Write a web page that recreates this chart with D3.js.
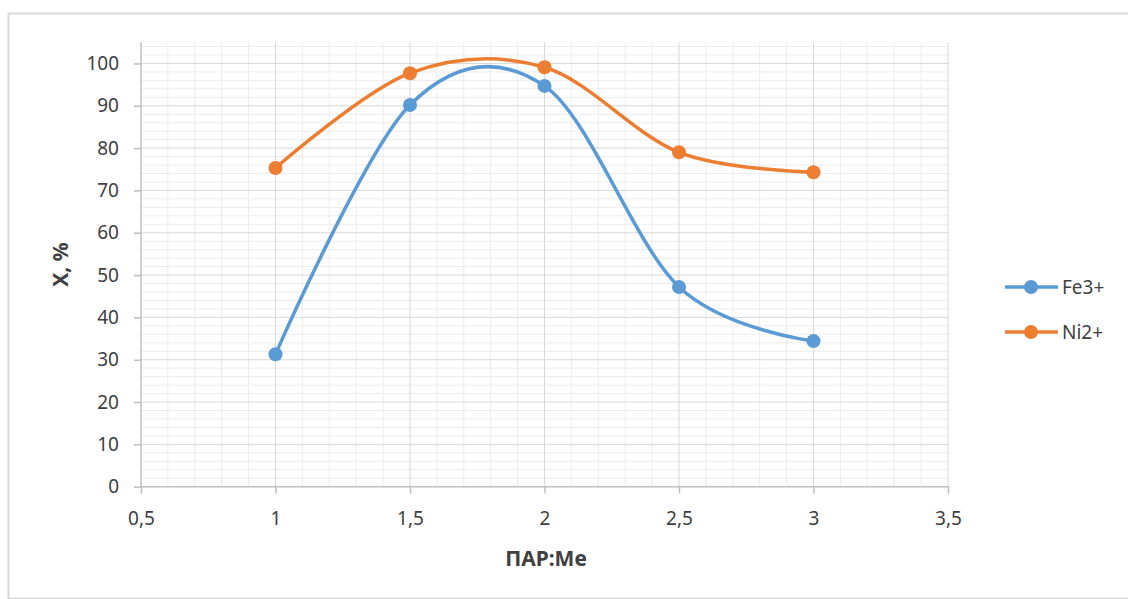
<!DOCTYPE html>
<html><head><meta charset="utf-8">
<script src="https://cdn.jsdelivr.net/npm/d3@7"></script>
<style>body{margin:0;background:#fff;} svg{display:block;} text{font-family:"Noto Sans",sans-serif;fill:#404040;}</style>
</head><body>
<script>
const xValues = [1, 1.5, 2, 2.5, 3];
const fe3 = [31.3, 90.2, 94.7, 47.2, 34.4];
const ni2 = [75.3, 97.7, 99.1, 79.0, 74.3];
const seriesNames = ["Fe3+", "Ni2+"];
const seriesColors = ["#5B9BD5", "#ED7D31"];
const xTicks = [0.5, 1, 1.5, 2, 2.5, 3, 3.5];
const yTicks = [0, 10, 20, 30, 40, 50, 60, 70, 80, 90, 100];

const W = 1128, H = 599;
const svg = d3.select("body").append("svg").attr("width", W).attr("height", H);
svg.append("rect").attr("x", 8.5).attr("y", 13.5).attr("width", 1140).attr("height", 585)
  .attr("fill", "#fff").attr("stroke", "#d9d9d9").attr("stroke-width", 2);

const x = d3.scaleLinear().domain([0.5, 3.5]).range([141, 948]);
const y = d3.scaleLinear().domain([0, 105]).range([486.7, 42.3]);

const g = svg.append("g");
const xMinor = d3.range(0.6, 3.5, 0.1).filter(v => Math.abs(v*2 - Math.round(v*2)) > 1e-6);
const yMinor = d3.range(2, 105, 2).filter(v => v % 10 !== 0);
g.selectAll(".xm").data(xMinor).join("line").attr("x1", d => x(d)).attr("x2", d => x(d))
  .attr("y1", y(0)).attr("y2", y(105)).attr("stroke", "#ececec").attr("stroke-width", 1);
g.selectAll(".ym").data(yMinor).join("line").attr("y1", d => y(d)).attr("y2", d => y(d))
  .attr("x1", x(0.5)).attr("x2", x(3.5)).attr("stroke", "#ececec").attr("stroke-width", 1);
g.selectAll(".xM").data(xTicks.slice(1)).join("line").attr("x1", d => x(d)).attr("x2", d => x(d))
  .attr("y1", y(0)).attr("y2", y(105)).attr("stroke", "#d9d9d9").attr("stroke-width", 1);
g.selectAll(".yM").data(yTicks.slice(1)).join("line").attr("y1", d => y(d)).attr("y2", d => y(d))
  .attr("x1", x(0.5)).attr("x2", x(3.5)).attr("stroke", "#d9d9d9").attr("stroke-width", 1);

const fmt = d => String(d).replace(".", ",");
const xAxis = svg.append("g").attr("transform", `translate(0,${y(0)})`)
  .call(d3.axisBottom(x).tickValues(xTicks).tickFormat(fmt).tickSize(7).tickPadding(18));
const yAxis = svg.append("g").attr("transform", `translate(${x(0.5)},0)`)
  .call(d3.axisLeft(y).tickValues(yTicks).tickSize(7).tickPadding(15));
[xAxis, yAxis].forEach(a => {
  a.select(".domain").attr("stroke", "#bfbfbf").attr("stroke-width", 1.5);
  a.selectAll(".tick line").attr("stroke", "#bfbfbf").attr("stroke-width", 1.5);
  a.selectAll("text").style("font-size", "19px").attr("fill", "#404040");
});
yAxis.select(".domain").attr("d", `M0,${y(0)}V${y(105)}`);
xAxis.select(".domain").attr("d", `M${x(0.5)},0H${x(3.5)}`);

const line = d3.line().x(d => x(d[0])).y(d => y(d[1])).curve(d3.curveCatmullRom.alpha(0));
[fe3, ni2].forEach((s, i) => {
  const pts = xValues.map((v, j) => [v, s[j]]);
  svg.append("path").datum(pts).attr("d", line).attr("fill", "none")
    .attr("stroke", seriesColors[i]).attr("stroke-width", 3.5).attr("stroke-linecap", "round");
  svg.selectAll(".pt" + i).data(pts).join("circle").attr("cx", d => x(d[0])).attr("cy", d => y(d[1]))
    .attr("r", 7).attr("fill", seriesColors[i]);
});

svg.append("text").attr("transform", `translate(68,${(y(0)+y(105))/2}) rotate(-90)`)
  .attr("text-anchor", "middle").style("font-size", "21px").style("font-weight", "bold")
  .attr("fill", "#000").text("Х, %");
svg.append("text").attr("x", 546).attr("y", 566).attr("text-anchor", "middle")
  .style("font-size", "21px").style("font-weight", "bold").attr("fill", "#000").text("ПАР:Ме");

const leg = svg.append("g");
seriesNames.forEach((n, i) => {
  const ly = 287 + i * 45;
  leg.append("line").attr("x1", 1005).attr("x2", 1058).attr("y1", ly).attr("y2", ly)
    .attr("stroke", seriesColors[i]).attr("stroke-width", 3.5);
  leg.append("circle").attr("cx", 1031).attr("cy", ly).attr("r", 7).attr("fill", seriesColors[i]);
  leg.append("text").attr("x", 1062).attr("y", ly + 7).style("font-size", "19px").attr("fill", "#404040").text(n);
});
</script>
</body></html>
